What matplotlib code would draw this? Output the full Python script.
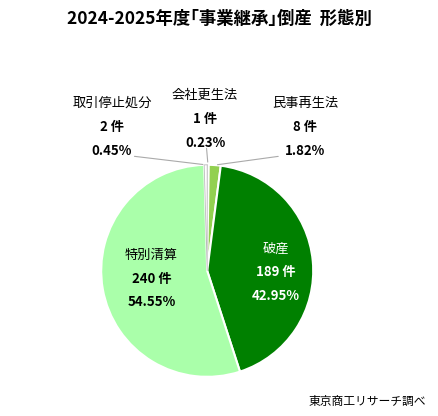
import matplotlib.pyplot as plt
import numpy as np

plt.rcParams['font.family'] = ['Noto Sans CJK JP', 'DejaVu Sans']

labels = ["会社更生法", "民事再生法", "破産", "特別清算", "取引停止処分"]
counts = [1, 8, 189, 240, 2]
shares = [0.23, 1.82, 42.95, 54.55, 0.45]
colors = ["#ffffff", "#92d050", "#008000", "#aaffaa", "#ffffff"]

fig = plt.figure(figsize=(4.39, 4.16), dpi=100)
fig.text(0.5, 0.955, "2024-2025年度｢事業継承｣倒産  形態別", ha="center", va="center",
         fontsize=12.5, fontweight="bold")
fig.text(0.97, 0.035, "東京商工リサーチ調べ", ha="right", va="center", fontsize=8.5)

ax = fig.add_axes([0.472 - 0.2415, 0.349 - 0.2548, 0.483, 0.5096])
wedges, _ = ax.pie(counts, colors=colors, startangle=90, counterclock=False,
                   wedgeprops=dict(edgecolor="#bbbbbb", linewidth=0.6))
for w, c in zip(wedges, colors):
    if c != "#ffffff":
        w.set_edgecolor("white")
        w.set_linewidth(1.5)
ax.set_xlim(-1.0, 1.0)
ax.set_ylim(-1.0, 1.0)
ax.set_aspect("equal")

def txt(x, y, i, color="black"):
    fig.text(x, y + 0.057, labels[i], ha="center", va="center", fontsize=9.5, color=color)
    fig.text(x, y, f"{counts[i]} 件", ha="center", va="center", fontsize=9.5,
             fontweight="bold", color=color)
    fig.text(x, y - 0.057, f"{shares[i]:.2f}%", ha="center", va="center", fontsize=9.5,
             fontweight="bold", color=color)

# inside labels
txt(0.628, 0.345, 2, "white")
txt(0.345, 0.33, 3)
# outside labels
txt(0.255, 0.695, 4)
txt(0.467, 0.714, 0)
txt(0.695, 0.695, 1)

# leader lines
cum = np.cumsum([0] + counts) / sum(counts)
for i, (tx, ty) in zip([4, 0, 1], [(0.3, 0.625), (0.47, 0.65), (0.64, 0.625)]):
    mid = np.deg2rad(90 - 360 * (cum[i] + cum[i + 1]) / 2)
    ax.annotate("", xy=(np.cos(mid), np.sin(mid)), xycoords="data",
                xytext=(tx, ty), textcoords="figure fraction",
                arrowprops=dict(arrowstyle="-", color="#aaaaaa", lw=0.8))

fig.savefig("out.png", dpi=100)
